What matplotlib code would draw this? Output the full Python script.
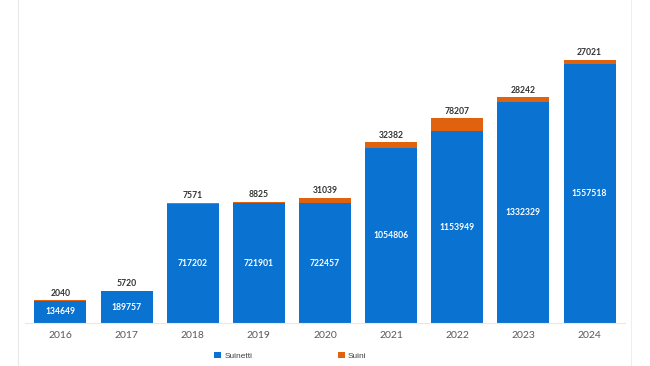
import matplotlib
matplotlib.use('Agg')
import matplotlib.pyplot as plt
import numpy as np

plt.rcParams['font.family'] = ['Lato', 'DejaVu Sans']

# Data
anni = ['2016', '2017', '2018', '2019', '2020', '2021', '2022', '2023', '2024']
suinetti = [134649, 189757, 717202, 721901, 722457, 1054806, 1153949, 1332329, 1557518]
suini = [2040, 5720, 7571, 8825, 31039, 32382, 78207, 28242, 27021]

blue = '#0A72D1'
orange = '#E0620E'

fig = plt.figure(figsize=(6.5, 3.66), dpi=100)
ax = fig.add_axes([0.038, 0.1175, 0.924, 0.862])

x = np.arange(len(anni))
w = 0.785
ax.bar(x, suinetti, width=w, color=blue, label='Suinetti', zorder=2)
ax.bar(x, suini, width=w, bottom=suinetti, color=orange, label='Suini', zorder=2)

# value labels
for xi, b, t in zip(x, suinetti, suini):
    ax.text(xi, b / 2, f'{b}', ha='center', va='center', color='white',
            fontsize=6.2, fontweight='bold')
    ax.text(xi, b + t + 15000, f'{t}', ha='center', va='bottom', color='#333333',
            fontsize=6.2, fontweight='bold')

ax.set_xlim(-0.54, 8.54)
ax.set_ylim(0, 1900000)
ax.set_xticks(x)
ax.set_xticklabels(anni, fontsize=7.5, color='#595959')
ax.tick_params(axis='x', length=0, pad=6)
ax.set_yticks([])
for s in ['top', 'right', 'left']:
    ax.spines[s].set_visible(False)
ax.spines['bottom'].set_color('#F2E6DA')
ax.spines['bottom'].set_linewidth(0.8)

# legend
leg = fig.legend(loc='center left', bbox_to_anchor=(0.318, 0.027), ncol=2,
                 frameon=False, prop={'family': 'Liberation Sans', 'size': 6},
                 handlelength=0.8, handleheight=0.8,
                 handletextpad=0.4, columnspacing=10.3)
for txt in leg.get_texts():
    txt.set_color('#404040')

# faint frame lines at the left and right edges
fig.add_artist(plt.Line2D([0.028, 0.028], [0, 1], color='#E8E8E8', lw=0.8))
fig.add_artist(plt.Line2D([0.971, 0.971], [0, 1], color='#EEEEEE', lw=0.8))

plt.savefig('out.png', dpi=100)
